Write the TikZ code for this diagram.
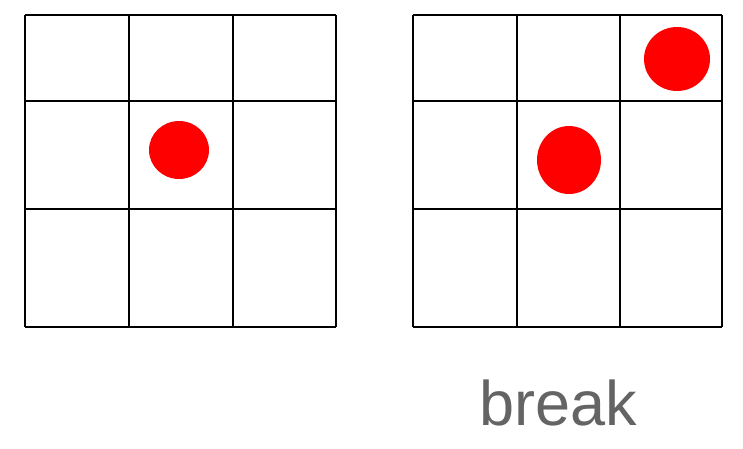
\documentclass[tikz,border=0pt]{standalone}
\usepackage{fontspec}
\setmainfont{Liberation Sans}
\definecolor{dotred}{RGB}{255,0,0}
\definecolor{labelgray}{RGB}{100,100,100}

\begin{document}
\begin{tikzpicture}[x=1pt,y=-1pt]
  \useasboundingbox (0,0) rectangle (743,448);
  % two 3x3 boards
  \foreach \xa/\xb/\xc/\xd in {25/129/233/336, 413/517/620/722}{
    \foreach \y in {15,101,209,327}
      \draw[line width=1.6pt] (\xa,\y) -- (\xd,\y);
    \foreach \x in {\xa,\xb,\xc,\xd}
      \draw[line width=1.6pt] (\x,15) -- (\x,327);
  }
  % stones
  \foreach \px/\py/\rx/\ry in {179/150/30/29, 569/160/32/34, 677/59/33/32}
    \fill[dotred] (\px,\py) ellipse ({\rx} and {\ry});
  \node[anchor=base, text=labelgray, inner sep=0pt,
        font=\fontsize{63}{75}\selectfont] (label) at (558,425) {break};
\end{tikzpicture}
\end{document}
